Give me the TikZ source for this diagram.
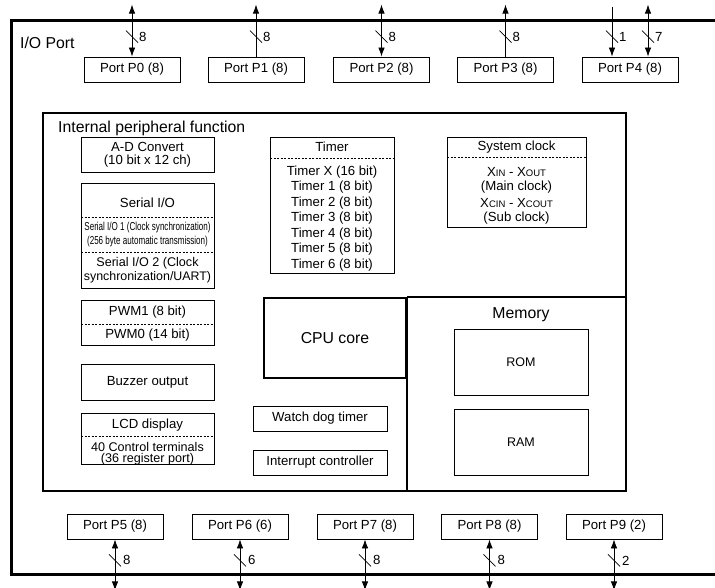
\documentclass[tikz,border=0pt]{standalone}
\usepackage{fontspec}
\setmainfont{Liberation Sans}
\usetikzlibrary{arrows.meta,calc}
\newcommand\smc[1]{{\fontsize{9.5}{11}\selectfont #1}}
\begin{document}
\begin{tikzpicture}[x=1pt,y=-1pt,
  box/.style={draw,line width=0.8pt,inner sep=0pt,font=\fontsize{13.2}{15.5}\selectfont,align=center},
  port/.style={box,minimum width=96pt,minimum height=25pt},
  txt/.style={inner sep=0pt,font=\fontsize{13.2}{15.5}\selectfont,align=center},
  tiny/.style={inner sep=0pt,font=\fontsize{11.5}{13}\selectfont},
  big/.style={inner sep=0pt,font=\fontsize{15.8}{18}\selectfont},
  bus/.style={line width=0.8pt},
  tip/.style={-{Latex[length=9pt,width=6.5pt]}},
  dtip/.style={{Latex[length=9pt,width=6.5pt]}-{Latex[length=9pt,width=6.5pt]}},
  sep/.style={line width=0.8pt,dash pattern=on 2pt off 1.5pt},
  frame/.style={draw,line width=2pt,inner sep=0pt},
  slash/.style={line width=0.8pt},
]
\useasboundingbox (0,0) rectangle (715,588);
\fill[white] (0,0) rectangle (715,588);

% outer I/O port frame
\draw[line width=3pt] (730,21) -- (11,21) -- (11,574) -- (730,574);
\node[big,anchor=west] (iolbl) at (20,43) {I/O Port};

% top ports
\node[port] (p0) at (132,69.5) {Port P0 (8)};
\node[port] (p1) at (256,69.5) {Port P1 (8)};
\node[port] (p2) at (381.5,69.5) {Port P2 (8)};
\node[port] (p3) at (505.5,69.5) {Port P3 (8)};
\node[port] (p4) at (630,69.5) {Port P4 (8)};

\coordinate (t0) at ($(p0.north)+(0,-52)$);
\coordinate (t1) at ($(p1.north)+(0,-52)$);
\coordinate (t2) at ($(p2.north)+(0,-52)$);
\coordinate (t3) at ($(p3.north)+(0,-52)$);
\coordinate (t4a) at ($(p4.north)+(-18,-50)$);
\coordinate (t4b) at ($(p4.north)+(18,-52)$);
\coordinate (b4a) at ($(p4.north)+(-18,0)$);
\coordinate (b4b) at ($(p4.north)+(18,0)$);

\draw[bus,dtip] (t0) -- (p0.north);
\draw[bus,tip] (p1.north) -- (t1);
\draw[bus,dtip] (t2) -- (p2.north);
\draw[bus,tip] (p3.north) -- (t3);
\draw[bus,tip] (t4a) -- (b4a);
\draw[bus,dtip] (t4b) -- (b4b);

\foreach \n/\dx/\lab in {p0/0/8,p1/0/8,p2/0/8,p3/0/8,p4/-18/1,p4/18/7}{
  \draw[slash] ($(\n.north)+(\dx-6,-26)$) -- ++(12,12);
  \node[txt,anchor=west] (lab\n\lab) at ($(\n.north)+(\dx+7,-20)$) {\lab};
}

% bottom ports
\node[port] (p5) at (115,526.5) {Port P5 (8)};
\node[port] (p6) at (240,526.5) {Port P6 (6)};
\node[port] (p7) at (365,526.5) {Port P7 (8)};
\node[port] (p8) at (489.5,526.5) {Port P8 (8)};
\node[port] (p9) at (614,526.5) {Port P9 (2)};
\foreach \n/\lab in {p5/8,p6/6,p7/8,p8/8,p9/2}{
  \coordinate (e\n) at ($(\n.south)+(0,51)$);
  \draw[bus,dtip] (\n.south) -- (e\n);
  \draw[slash] ($(\n.south)+(-6,15)$) -- ++(12,12);
  \node[txt,anchor=west] (lab\n) at ($(\n.south)+(8,21)$) {\lab};
}

% internal peripheral function frame
\node[frame,minimum width=583pt,minimum height=378pt] (ipf) at (334.5,302) {};
\node[big,anchor=west] (ipflbl) at (58,128) {Internal peripheral function};

% left column
\node[box,minimum width=133pt,minimum height=35pt] (ad) at (147.5,154.5) {};
\node[txt] (ad1) at (147.5,147) {A-D Convert};
\node[txt] (ad2) at (147.5,161.5) {(10 bit x 12 ch)};

\node[box,minimum width=133pt,minimum height=105pt] (sio) at (147.5,235.5) {};
\draw[sep] (81,217) -- (214,217);
\draw[sep] (81,252) -- (214,252);
\node[txt] (siolbl) at (147.5,203) {Serial I/O};
\node[tiny] (sio1a) at (147.5,227.5) {\scalebox{0.7}[1]{Serial I/O 1 (Clock synchronization)}};
\node[tiny] (sio1b) at (147.5,241.5) {\scalebox{0.7}[1]{(256 byte automatic transmission)}};
\node[txt,font=\fontsize{12.6}{15}\selectfont] (sio2a) at (147.5,263) {Serial I/O 2 (Clock};
\node[txt,font=\fontsize{12.4}{15}\selectfont] (sio2b) at (147.5,277.5) {synchronization/UART)};

\node[box,minimum width=133pt,minimum height=45pt] (pwm) at (147.5,322.5) {};
\draw[sep] (81,324) -- (214,324);
\node[txt] (pwm1) at (147.5,312.5) {PWM1 (8 bit)};
\node[txt] (pwm0) at (147.5,335.5) {PWM0 (14 bit)};

\node[box,minimum width=133pt,minimum height=36pt] (buz) at (147.5,382) {Buzzer output};

\node[box,minimum width=133pt,minimum height=51pt] (lcd) at (147.5,438.5) {};
\draw[sep] (81,436) -- (214,436);
\node[txt] (lcdlbl) at (147.5,425) {LCD display};
\node[txt,font=\fontsize{12.6}{15}\selectfont] (lcd1) at (147.5,446.5) {40 Control terminals};
\node[txt,font=\fontsize{12.6}{15}\selectfont] (lcd2) at (147.5,459) {(36 register port)};

% timer
\node[box,minimum width=124pt,minimum height=136pt] (tim) at (332,205) {};
\draw[sep] (270,158) -- (394,158);
\node[txt] (timlbl) at (332,147) {Timer};
\foreach \t [count=\i] in {Timer X (16 bit),Timer 1 (8 bit),Timer 2 (8 bit),Timer 3 (8 bit),Timer 4 (8 bit),Timer 5 (8 bit),Timer 6 (8 bit)}{
  \node[txt] (tm\i) at (332,{172+15.5*(\i-1)}) {\t};
}

% system clock
\node[box,minimum width=139pt,minimum height=90pt] (clk) at (516.5,182) {};
\draw[sep] (447,157) -- (586,157);
\node[txt] (clklbl) at (516.5,147) {System clock};
\node[txt] (clk1) at (516.5,172) {X\smc{IN} - X\smc{OUT}};
\node[txt] (clk2) at (516.5,187.5) {(Main clock)};
\node[txt] (clk3) at (516.5,203) {X\smc{CIN} - X\smc{COUT}};
\node[txt] (clk4) at (516.5,218.5) {(Sub clock)};

% CPU core and memory
\node[frame,minimum width=142pt,minimum height=80pt,font=\fontsize{15.8}{18}\selectfont] (cpu) at (335,338) {CPU core};
\draw[line width=2pt] (cpu.north east) -- (ipf.east |- cpu.north);
\draw[line width=2pt] (cpu.north east) -- (cpu.north east |- ipf.south);
\node[big] (memlbl) at (521,315) {Memory};
\node[box,minimum width=134pt,minimum height=66pt,font=\fontsize{12.5}{15}\selectfont] (rom) at (521,362) {ROM};
\node[box,minimum width=134pt,minimum height=66pt,font=\fontsize{12.5}{15}\selectfont] (ram) at (521,442) {RAM};

\node[box,minimum width=134pt,minimum height=25pt] (wdt) at (320,418.5) {Watch dog timer};
\node[box,minimum width=134pt,minimum height=25pt] (irq) at (320,462.5) {Interrupt controller};
\end{tikzpicture}
\end{document}
